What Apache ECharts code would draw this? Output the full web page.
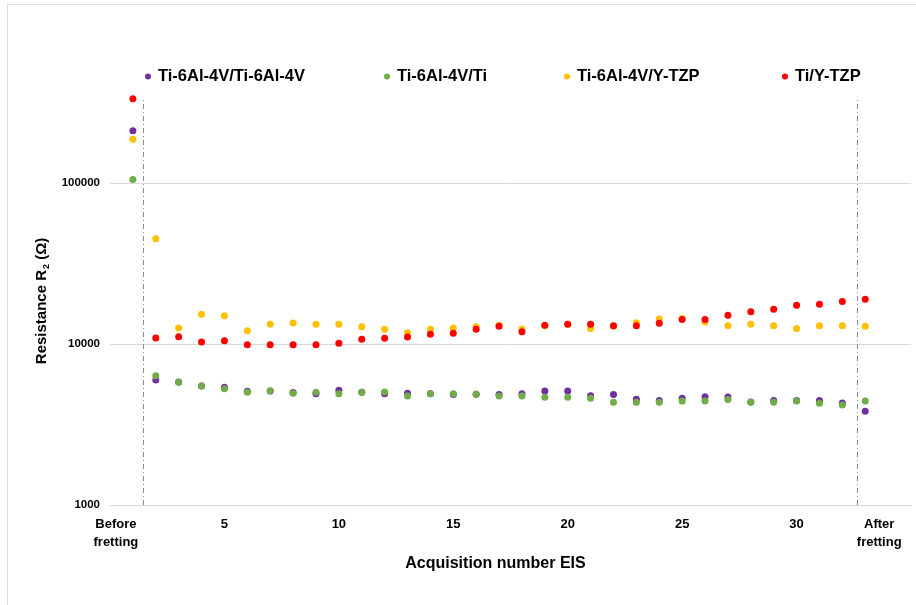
<!DOCTYPE html>
<html>
<head>
<meta charset="utf-8">
<title>Resistance R2</title>
<script src="https://cdn.jsdelivr.net/npm/echarts@6/dist/echarts.min.js"></script>
<style>
  html, body { margin: 0; padding: 0; background: #fff; }
  #chart { width: 916px; height: 605px; }
</style>
</head>
<body>
<div id="chart"></div>
<script>
// acquisition number: 1 = before fretting, 2..32 = during, 33 = after fretting
var acquisitions = [1,2,3,4,5,6,7,8,9,10,11,12,13,14,15,16,17,18,19,20,21,22,23,24,25,26,27,28,29,30,31,32,33];

var tiTi64 = [211000,5970,5800,5480,5380,5080,5110,5000,4910,5160,5010,4910,4940,4910,4850,4880,4850,4910,5110,5110,
              4770,4850,4540,4450,4600,4710,4690,4360,4450,4450,4450,4300,3820];
var tiTi = [105000,6350,5780,5480,5270,5010,5110,4940,5010,4910,5010,5030,4750,4910,4910,4880,4750,4750,4670,4670,
            4600,4340,4340,4340,4420,4420,4520,4340,4340,4420,4290,4180,4420];
var tiYtzp64 = [187000,45000,12560,15300,15000,12100,13250,13500,13250,13250,12800,12330,11750,12330,12560,12800,13060,12400,13000,13250,
                12500,12900,13550,14280,14400,13700,13000,13250,13000,12500,13000,13000,12870];
var tiYtzp = [333000,10900,11100,10280,10480,9900,9900,9900,9900,10100,10700,10840,11050,11480,11640,12330,12870,11900,13060,13250,
              13250,13000,13000,13450,14200,14200,15070,15880,16450,17400,17650,18330,18970];

var seriesNames = ['Ti-6Al-4V/Ti-6Al-4V', 'Ti-6Al-4V/Ti', 'Ti-6Al-4V/Y-TZP', 'Ti/Y-TZP'];
var tickValues = [1, 5, 10, 15, 20, 25, 30, 33];
var tickLabels = ['Before\nfretting', '5', '10', '15', '20', '25', '30', 'After\nfretting'];
var separators = [1.45, 32.65];   // dash-dot lines before / after fretting

var colors = ['#7030a0', '#70ad47', '#ffc000', '#ff0000'];
var yMax = 342000;

function pairs(values) {
	return acquisitions.map(function (a, i) { return [a, values[i]]; });
}

var allValues = [tiTi64, tiTi, tiYtzp64, tiYtzp];
var legendLeft = [140, 379, 559, 777];

var series = allValues.map(function (vals, k) {
	var s = {
		name: seriesNames[k],
		type: 'scatter',
		symbol: 'circle',
		symbolSize: 7,
		itemStyle: { color: colors[k], opacity: 1 },
		data: pairs(vals)
	};
	if (k === 0) {
		s.markLine = {
			silent: true,
			symbol: 'none',
			label: { show: false },
			lineStyle: { color: '#8c8c8c', width: 1, type: [5, 3, 1, 3] },
			data: separators.map(function (x) {
				return [{ coord: [x, 1000] }, { coord: [x, yMax] }];
			})
		};
	}
	return s;
});

var legends = seriesNames.map(function (n, k) {
	return {
		data: [n],
		left: legendLeft[k],
		top: 63,
		icon: 'circle',
		itemWidth: 6,
		itemHeight: 6,
		itemGap: 0,
		textStyle: { fontFamily: 'Liberation Sans', fontWeight: 'bold', fontSize: 16.5, color: '#000', padding: [0, 0, 0, 2] }
	};
});

var option = {
	backgroundColor: '#fff',
	animation: false,
	color: colors,
	legend: legends,
	graphic: [{
		type: 'rect',
		shape: { x: 7.5, y: 4.5, width: 1000, height: 1000 },
		style: { fill: 'none', stroke: '#dedede', lineWidth: 1 },
		silent: true
	}],
	grid: { left: 110, right: 5, top: 97, bottom: 100 },
	xAxis: {
		type: 'value',
		min: 0,
		max: 35,
		interval: 1,
		name: 'Acquisition number EIS',
		nameLocation: 'middle',
		nameGap: 40,
		nameTextStyle: { fontFamily: 'Liberation Sans', fontWeight: 'bold', fontSize: 16, color: '#000', padding: [0, 30, 0, 0] },
		axisLine: { show: true, lineStyle: { color: '#d9d9d9', width: 1 } },
		axisTick: { show: false },
		splitLine: { show: false },
		axisLabel: {
			margin: 10,
			fontFamily: 'Liberation Sans',
			fontWeight: 'bold',
			fontSize: 13,
			color: '#000',
			lineHeight: 18,
			formatter: function (v) {
				var i = tickValues.indexOf(Math.round(v));
				if (i < 0 || Math.abs(v - tickValues[i]) > 1e-6) return '';
				var t = tickLabels[i];
				if (i === 0) return t.split('\n').map(function (p) { return '{b|' + p + '}'; }).join('\n');
				if (i === tickValues.length - 1) return t.split('\n').map(function (p) { return '{a|' + p + '}'; }).join('\n');
				return t;
			},
			rich: {
				b: { fontFamily: 'Liberation Sans', fontWeight: 'bold', fontSize: 13, color: '#000', lineHeight: 18, padding: [0, 34, 0, 0] },
				a: { fontFamily: 'Liberation Sans', fontWeight: 'bold', fontSize: 13, color: '#000', lineHeight: 18, padding: [0, 0, 0, 28] }
			}
		}
	},
	yAxis: {
		type: 'log',
		logBase: 10,
		min: 1000,
		max: yMax,
		name: 'Resistance R{s|2} (Ω)',
		nameLocation: 'middle',
		nameGap: 53,
		nameTextStyle: {
			fontFamily: 'Liberation Sans', fontWeight: 'bold', fontSize: 15, color: '#000',
			rich: {
				s: { fontFamily: 'Liberation Sans', fontWeight: 'bold', fontSize: 9, color: '#000', verticalAlign: 'bottom', padding: [8, 0, 0, 1] }
			}
		},
		axisLine: { show: false },
		axisTick: { show: false },
		splitLine: { show: true, showMaxLine: false, lineStyle: { color: '#d9d9d9', width: 1 } },
		axisLabel: {
			margin: 10,
			showMaxLabel: false,
			fontFamily: 'Liberation Sans',
			fontWeight: 'bold',
			fontSize: 11.5,
			color: '#000',
			formatter: function (v) {
				var e = Math.log10(v);
				if (Math.abs(e - Math.round(e)) > 1e-6) return '';
				return String(Math.round(v));
			}
		}
	},
	series: series
};

var myChart = echarts.init(document.getElementById('chart'));
myChart.setOption(option);
</script>
</body>
</html>
